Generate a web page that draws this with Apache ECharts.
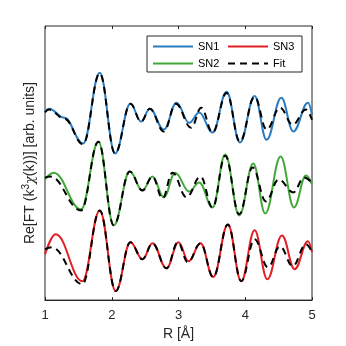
<!DOCTYPE html>
<html>
<head>
<meta charset="utf-8">
<script src="https://cdn.jsdelivr.net/npm/echarts@6/dist/echarts.min.js"></script>
<style>
  html, body { margin: 0; padding: 0; background: #fff; }
  #chart { width: 346px; height: 346px; }
</style>
</head>
<body>
<div id="chart"></div>
<script>
// R [Å] positions of the turning points, with offset-stacked amplitudes
var sn1R = [1.00, 1.06, 1.29, 1.57, 1.82, 2.05, 2.28, 2.44, 2.57, 2.78, 2.97, 3.16, 3.31, 3.51, 3.72, 3.92, 4.14, 4.32, 4.54, 4.72, 4.94, 5.00];
var sn1Y = [6.87, 6.98, 6.65, 5.71, 8.29, 5.35, 7.16, 6.51, 6.98, 6.22, 7.20, 6.47, 6.84, 6.11, 7.60, 5.75, 7.45, 5.85, 7.38, 6.15, 7.20, 6.76];
var fit1R = [1.00, 1.06, 1.29, 1.57, 1.82, 2.05, 2.28, 2.44, 2.57, 2.78, 2.96, 3.19, 3.34, 3.51, 3.72, 3.92, 4.14, 4.32, 4.52, 4.71, 4.91, 5.00];
var fit1Y = [6.85, 6.95, 6.62, 5.69, 8.27, 5.35, 7.16, 6.51, 6.98, 6.15, 7.16, 6.29, 7.02, 6.11, 7.56, 5.78, 7.42, 6.22, 7.02, 6.40, 6.95, 6.58];

var sn2R = [1.00, 1.13, 1.54, 1.80, 2.03, 2.27, 2.46, 2.61, 2.78, 2.95, 3.16, 3.31, 3.51, 3.70, 3.91, 4.12, 4.30, 4.53, 4.73, 4.91, 5.00];
var sn2Y = [4.40, 4.65, 3.31, 5.78, 2.73, 4.69, 4.00, 4.51, 3.75, 4.65, 3.96, 4.29, 3.38, 5.31, 3.09, 4.98, 3.16, 5.24, 3.38, 4.55, 4.22];
var fit2R = [1.00, 1.08, 1.54, 1.80, 2.03, 2.27, 2.46, 2.61, 2.76, 2.91, 3.12, 3.33, 3.51, 3.70, 3.91, 4.11, 4.31, 4.50, 4.72, 4.88, 5.00];
var fit2Y = [4.47, 4.51, 3.27, 5.78, 2.73, 4.69, 4.00, 4.51, 3.71, 4.65, 3.75, 4.51, 3.38, 5.27, 3.13, 4.84, 3.60, 4.40, 3.93, 4.47, 4.29];

var sn3R = [1.00, 1.16, 1.56, 1.82, 2.06, 2.28, 2.46, 2.61, 2.82, 3.00, 3.15, 3.33, 3.52, 3.74, 3.94, 4.14, 4.33, 4.55, 4.74, 4.94, 5.00];
var sn3Y = [1.67, 2.40, 0.69, 3.27, 0.33, 2.11, 1.49, 2.07, 1.16, 2.11, 1.42, 2.07, 0.84, 2.76, 0.69, 2.55, 0.76, 2.36, 1.13, 2.15, 1.75];
var fit3R = [1.00, 1.10, 1.56, 1.82, 2.06, 2.28, 2.46, 2.61, 2.82, 2.99, 3.14, 3.33, 3.52, 3.74, 3.94, 4.14, 4.34, 4.52, 4.71, 4.91, 5.00];
var fit3Y = [1.85, 1.93, 0.58, 3.27, 0.33, 2.11, 1.49, 2.07, 1.16, 2.11, 1.38, 2.07, 0.84, 2.76, 0.69, 2.22, 1.20, 1.96, 1.24, 2.04, 1.75];

var xTicks = [1, 2, 3, 4, 5];
var legendOrder = ['SN1', 'SN3', 'SN2', 'Fit'];

var axisColor = '#262626';
var fontFam = '"Liberation Sans", Arial, sans-serif';

function pairs(xs, ys) {
    var out = [];
    for (var i = 0; i < xs.length; i++) out.push([xs[i], ys[i]]);
    return out;
}

function dataLine(name, color, xs, ys) {
    return {
        name: name,
        type: 'line',
        data: pairs(xs, ys),
        showSymbol: false,
        symbol: 'none',
        smooth: 0.4,
        smoothMonotone: 'x',
        lineStyle: { color: color, width: 2 },
        itemStyle: { color: color }
    };
}

function fitLine(xs, ys) {
    return {
        name: 'Fit',
        type: 'line',
        data: pairs(xs, ys),
        showSymbol: false,
        symbol: 'none',
        smooth: 0.4,
        smoothMonotone: 'x',
        z: 3,
        lineStyle: { color: '#000', width: 2, type: [7, 5] },
        itemStyle: { color: '#000' }
    };
}

var chart = echarts.init(document.getElementById('chart'));

var option = {
    animation: false,
    backgroundColor: '#fff',
    grid: {
        left: 45, right: 34, top: 26, bottom: 45,
        show: true, borderColor: axisColor, borderWidth: 1
    },
    legend: {
        data: legendOrder,
        left: 147, top: 36,
        width: 160,
        orient: 'horizontal',
        itemWidth: 40, itemHeight: 4, itemGap: 6,
        padding: [5, 6, 3, 5],
        borderColor: axisColor, borderWidth: 1,
        backgroundColor: '#fff',
        itemStyle: { opacity: 0 },
        textStyle: { fontFamily: fontFam, fontSize: 11, color: '#000', width: 23, lineHeight: 10.5 }
    },
    xAxis: [{
        type: 'value',
        min: 1, max: 5, interval: 1,
        name: 'R [Å]',
        nameLocation: 'middle',
        nameGap: 23,
        nameTextStyle: { fontFamily: fontFam, fontSize: 14, color: axisColor },
        axisLine: { show: true, lineStyle: { color: axisColor } },
        axisTick: { show: true, inside: true, length: 3, lineStyle: { color: axisColor } },
        axisLabel: { fontFamily: fontFam, fontSize: 13, color: axisColor, margin: 9,
            formatter: function (v) { return xTicks.indexOf(v) >= 0 ? String(v) : ''; } },
        splitLine: { show: false }
    }, {
        type: 'value',
        position: 'top',
        min: 1, max: 5, interval: 1,
        axisLine: { show: false },
        axisTick: { show: true, inside: true, length: 3, lineStyle: { color: axisColor } },
        axisLabel: { show: false },
        splitLine: { show: false }
    }],
    yAxis: {
        type: 'value',
        min: 0, max: 10,
        name: 'Re[FT (k{sup|3}{chi|χ}(k))] [arb. units]',
        nameLocation: 'middle',
        nameGap: 5,
        nameTextStyle: {
            fontFamily: fontFam, fontSize: 14, color: axisColor,
            rich: {
                sup: { fontFamily: fontFam, fontSize: 10, color: axisColor, padding: [0, 0, 9, 0] },
                chi: { fontFamily: '"DejaVu Serif", serif', fontStyle: 'italic', fontSize: 13, color: axisColor }
            }
        },
        axisLine: { show: false },
        axisTick: { show: false },
        axisLabel: { show: false },
        splitLine: { show: false }
    },
    series: [
        dataLine('SN1', '#2A7BBF', sn1R, sn1Y),
        fitLine(fit1R, fit1Y),
        dataLine('SN2', '#43A83A', sn2R, sn2Y),
        fitLine(fit2R, fit2Y),
        dataLine('SN3', '#E31E24', sn3R, sn3Y),
        fitLine(fit3R, fit3Y)
    ]
};

chart.setOption(option);
</script>
</body>
</html>
